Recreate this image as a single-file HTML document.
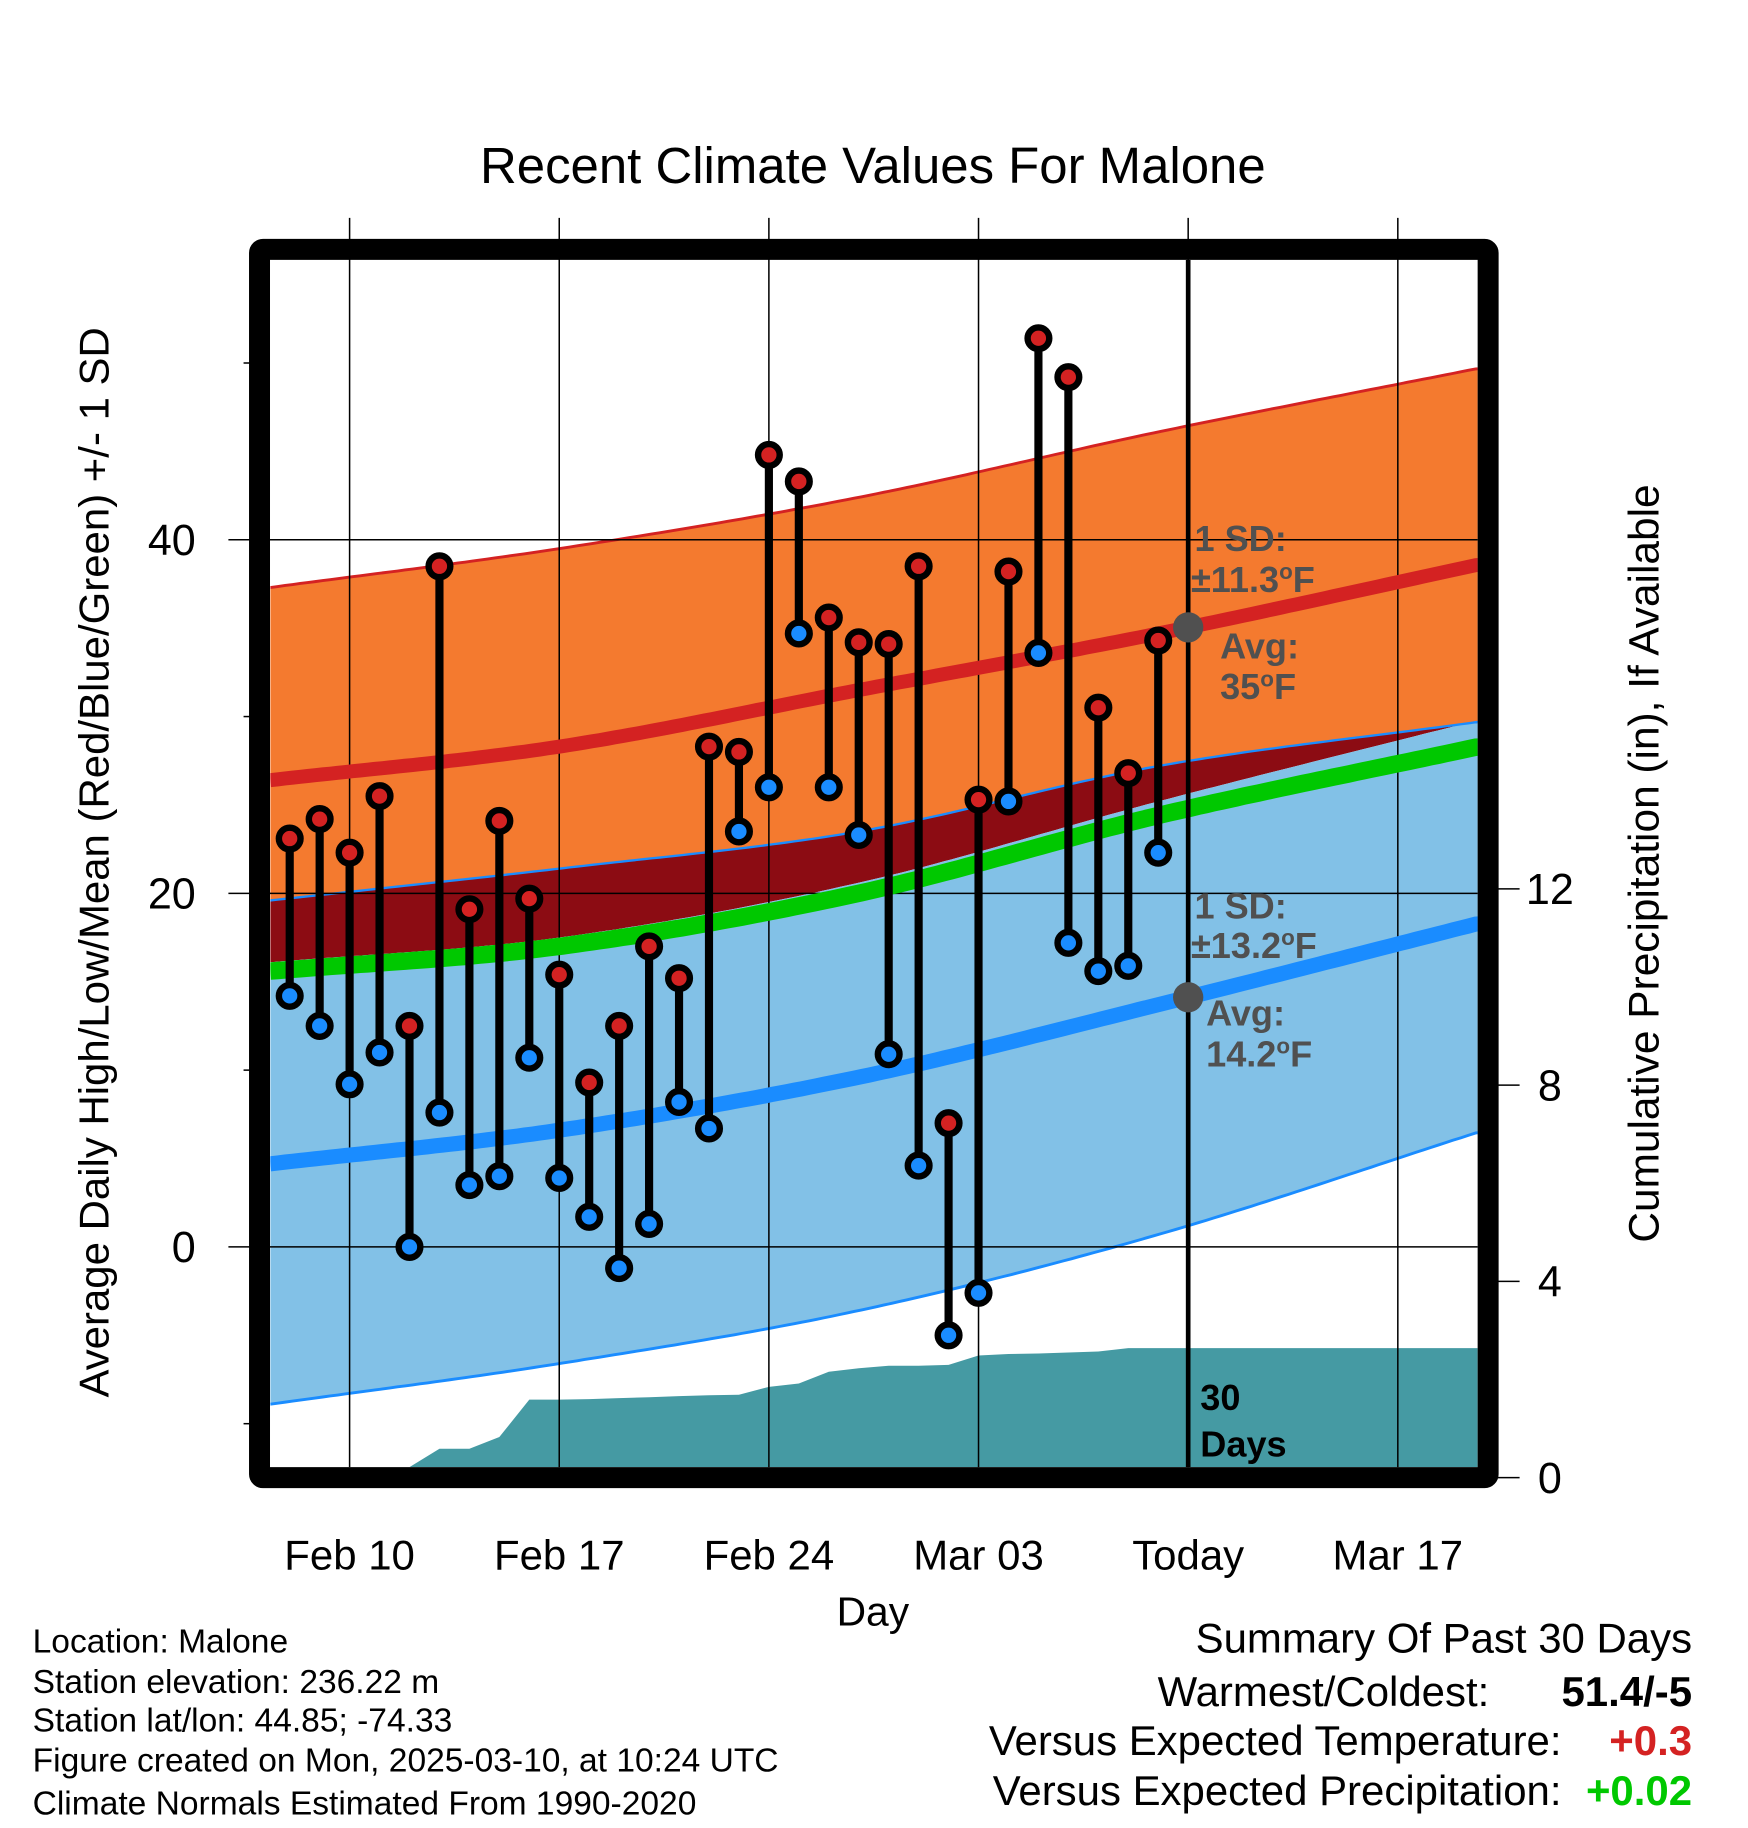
<!DOCTYPE html>
<html><head><meta charset="utf-8"><style>
html,body{margin:0;padding:0;background:#fff}
svg{display:block}
text{font-family:"Liberation Sans",Arial,sans-serif}
</style></head><body>
<svg id="chart" width="1748" height="1828" viewBox="0 0 1500 1568.65" xmlns="http://www.w3.org/2000/svg">
<defs><clipPath id="pc"><rect x="232" y="223" width="1036" height="1036"/></clipPath></defs>
<g id="fills" clip-path="url(#pc)"></g>
<g id="grid"></g>
<g id="lines" clip-path="url(#pc)"></g>
<g id="marks"></g>
<g id="frame"></g>
<g id="labels"></g>
</svg>
<script>
// ---- data ----
const dayOffsets = [-2,-1,0,1,2,3,4,5,6,7,8,9,10,11,12,13,14,15,16,17,18,19,20,21,22,23,24,25,26,27];
const highs = [23.1,24.2,22.3,25.5,12.5,38.5,19.1,24.1,19.7,15.4,9.3,12.5,17.0,15.2,28.3,28.0,44.8,43.3,35.6,34.2,34.1,38.5,7.0,25.3,38.2,51.4,49.2,30.5,26.8,34.3];
const lows = [14.2,12.5,9.2,11.0,0,7.6,3.5,4.0,10.7,3.9,1.7,-1.2,1.3,8.2,6.7,23.5,26.0,34.7,26.0,23.3,10.9,4.6,-5.0,-2.6,25.2,33.6,17.2,15.6,15.9,22.3];
const precipCum = [0,0,0,0.02,0.05,0.59,0.59,0.83,1.59,1.59,1.60,1.62,1.64,1.66,1.68,1.69,1.85,1.92,2.16,2.23,2.28,2.28,2.30,2.49,2.52,2.53,2.55,2.57,2.64,2.64];
const normDays = [-2.65,7,17,27,37.7];
const normHighUpper = [37.3,39.5,42.4,46.1,49.7];
const normHighMean = [26.4,28.3,31.5,34.7,38.6];
const normHighLower = [16.1,17.5,20.6,25.2,29.8];
const normLowUpper = [19.6,21.4,23.5,27.2,29.7];
const normMeanLine = [15.6,17.0,20.0,24.4,28.3];
const normLowMean = [4.7,6.6,9.6,13.7,18.3];
const normLowLower = [-8.9,-6.6,-3.6,0.7,6.5];
const xTickDays = [0,7,14,21,28,35];
const xTickLabels = ["Feb 10","Feb 17","Feb 24","Mar 03","Today","Mar 17"];
const yTickTemps = [0,20,40];
const yMinorTemps = [-10,10,30,50];
const pTicks = [0,4,8,12];

// ---- scales ----
const L=232,R=1268,T=223,B=1259;
const xS=d=>300+25.7*d;
const yS=t=>1070-15.17*t;
const pS=p=>1268-42.1*p;
const NS="http://www.w3.org/2000/svg";
function mk(parent,tag,attrs){const e=document.createElementNS(NS,tag);for(const k in attrs)e.setAttribute(k,attrs[k]);document.getElementById(parent).appendChild(e);return e;}
function interp(arr,d){
 const n=normDays.length;let i=0;
 while(i<n-2&&d>normDays[i+1])i++;
 const x0=normDays[i],x1=normDays[i+1],h=x1-x0,t=Math.max(0,Math.min(1,(d-x0)/h));
 const slope=k=>{if(k===0)return (arr[1]-arr[0])/(normDays[1]-normDays[0]);if(k===n-1)return (arr[n-1]-arr[n-2])/(normDays[n-1]-normDays[n-2]);return (arr[k+1]-arr[k-1])/(normDays[k+1]-normDays[k-1]);};
 const m0=slope(i)*h,m1=slope(i+1)*h,t2=t*t,t3=t2*t;
 return (2*t3-3*t2+1)*arr[i]+(t3-2*t2+t)*m0+(-2*t3+3*t2)*arr[i+1]+(t3-t2)*m1;
}
const sampleDays=[];for(let d=normDays[0];d<normDays[4];d+=0.25)sampleDays.push(d);sampleDays.push(normDays[4]+0.3);
function smooth(arr){return sampleDays.map(d=>[xS(d),yS(interp(arr,Math.min(d,normDays[4])))]);}
function band(a,b){const up=smooth(a),lo=smooth(b).reverse();return up.concat(lo).map(p=>p[0].toFixed(1)+','+p[1].toFixed(1)).join(' ');}
function line(a){return smooth(a).map(p=>p[0].toFixed(1)+','+p[1].toFixed(1)).join(' ');}

let e;
e=mk('fills','polygon',{points:band(normHighUpper,normLowUpper),fill:'#f47a2f'});

e=mk('fills','polygon',{points:band(normLowUpper,normHighLower),fill:'#8c0c13'});

e=mk('fills','polygon',{points:band(normHighLower,normLowLower),fill:'#82c1e7'});

e=mk('fills','polyline',{points:line(normHighUpper),fill:'none',stroke:'#d42222','stroke-width':2.5});

e=mk('fills','polyline',{points:line(normLowUpper),fill:'none',stroke:'#1a8cff','stroke-width':2});

e=mk('fills','polyline',{points:line(normLowLower),fill:'none',stroke:'#1a8cff','stroke-width':2.5});

let pp=[[L,B]];
pp.push([L,pS(precipCum[0])]);
dayOffsets.forEach((d,i)=>pp.push([xS(d),pS(precipCum[i])]));
pp.push([R,pS(precipCum[precipCum.length-1])]);pp.push([R,B]);
e=mk('fills','polygon',{points:pp.map(p=>p[0].toFixed(1)+','+Math.min(B,p[1]).toFixed(1)).join(' '),fill:'#459aa3'});


xTickDays.forEach((d,i)=>{const x=xS(d);
 e=mk('grid','line',{x1:x,x2:x,y1:187,y2:B,stroke:'#000','stroke-width':1.3});
 
 e=mk('labels','text',{x:x,y:1347,'font-size':36,'text-anchor':'middle'});e.textContent=xTickLabels[i];
 
});
yTickTemps.forEach(t=>{const y=yS(t);
 e=mk('grid','line',{x1:196,x2:R,y1:y,y2:y,stroke:'#000','stroke-width':1.3});
 
 e=mk('labels','text',{x:168,y:y+13,'font-size':37,'text-anchor':'end'});e.textContent=t;
 
});
yMinorTemps.forEach(t=>{const y=yS(t);
 e=mk('grid','line',{x1:209,x2:220,y1:y,y2:y,stroke:'#000','stroke-width':1.3});
 
});
pTicks.forEach(p=>{const y=pS(p);
 e=mk('grid','line',{x1:1285,x2:1304,y1:y,y2:y,stroke:'#000','stroke-width':1.3});
 
 e=mk('labels','text',{x:1330,y:y+13,'font-size':37,'text-anchor':'middle'});e.textContent=p;
 
});

e=mk('lines','polyline',{points:line(normMeanLine),fill:'none',stroke:'#00c800','stroke-width':15});

e=mk('lines','polyline',{points:line(normHighMean),fill:'none',stroke:'#d42222','stroke-width':12});

e=mk('lines','polyline',{points:line(normLowMean),fill:'none',stroke:'#1a8cff','stroke-width':13});

e=mk('lines','line',{x1:xS(28),x2:xS(28),y1:T,y2:B,stroke:'#000','stroke-width':4});

e=mk('lines','circle',{cx:xS(28),cy:yS(interp(normHighMean,28)),r:13,fill:'#505050'});

e=mk('lines','circle',{cx:xS(28),cy:yS(interp(normLowMean,28)),r:13,fill:'#505050'});


dayOffsets.forEach((d,i)=>{const x=xS(d);
 e=mk('marks','line',{x1:x,x2:x,y1:yS(highs[i]),y2:yS(lows[i]),stroke:'#000','stroke-width':7});
 
});
dayOffsets.forEach((d,i)=>{const x=xS(d);
 e=mk('marks','circle',{cx:x,cy:yS(highs[i]),r:9.3,fill:'#d42222',stroke:'#000','stroke-width':5.5});
 
 e=mk('marks','circle',{cx:x,cy:yS(lows[i]),r:9.3,fill:'#1a8cff',stroke:'#000','stroke-width':5.5});
 
});

e=mk('frame','rect',{x:222.7,y:214,width:1054.3,height:1054,fill:'none',stroke:'#000','stroke-width':18,rx:3});


function txt(x,y,s,str,opts,name){const t=mk('labels','text',Object.assign({x:x,y:y,'font-size':s},opts||{}));t.textContent=str;return t;}
function deg(x,y,s,pre,opts,name){const t=txt(x,y,s,pre,opts,name);
 const o=document.createElementNS(NS,'tspan');o.setAttribute('dy',-11);o.setAttribute('font-size',s*0.62);o.textContent='o';t.appendChild(o);
 const f=document.createElementNS(NS,'tspan');f.setAttribute('dy',11);f.textContent='F';t.appendChild(f);return t;}
const g={fill:'#505050','font-weight':'bold'};
txt(1025,473,31,'1 SD:',g,'high-sd-label');
deg(1022,508,31,'±11.3',g,'high-sd-value');
txt(1047,565,31,'Avg:',g,'high-avg-label');
deg(1047,600,31,'35',g,'high-avg-value');
txt(1025,788,31,'1 SD:',g,'low-sd-label');
deg(1022,822,31,'±13.2',g,'low-sd-value');
txt(1035,880,31,'Avg:',g,'low-avg-label');
deg(1035,915,31,'14.2',g,'low-avg-value');
txt(1030,1210,31,'30',{'font-weight':'bold'},'days-label-30');
txt(1030,1250,31,'Days',{'font-weight':'bold'},'days-label');
txt(749,157,43.7,'Recent Climate Values For Malone',{'text-anchor':'middle'},'chart-title');
txt(749,1395,35,'Day',{'text-anchor':'middle'},'x-axis-title');
txt(0,0,36,'Average Daily High/Low/Mean (Red/Blue/Green) +/- 1 SD',{'text-anchor':'middle',transform:'translate(93,740) rotate(-90)'},'y-axis-title');
txt(0,0,36.4,'Cumulative Precipitation (in), If Available',{'text-anchor':'middle',transform:'translate(1423,741) rotate(-90)'},'y2-axis-title');
const info=['Location: Malone','Station elevation: 236.22 m','Station lat/lon: 44.85; -74.33','Figure created on Mon, 2025-03-10, at 10:24 UTC','Climate Normals Estimated From 1990-2020'];
const infoY=[1418,1453,1486,1520,1557];
info.forEach((s,i)=>txt(28,infoY[i],28.8,s,{},'station-info-line'));
txt(1452,1418,36,'Summary Of Past 30 Days',{'text-anchor':'end'},'summary-title');
txt(1278,1464,36,'Warmest/Coldest:',{'text-anchor':'end'},'warmest-coldest-label');
txt(1452,1464,36,'51.4/-5',{'text-anchor':'end','font-weight':'bold'},'warmest-coldest-value');
txt(1340,1506,36,'Versus Expected Temperature:',{'text-anchor':'end'},'temp-anomaly-label');
txt(1452,1506,36,'+0.3',{'text-anchor':'end','font-weight':'bold',fill:'#d42222'},'temp-anomaly-value');
txt(1340,1549,36,'Versus Expected Precipitation:',{'text-anchor':'end'},'precip-anomaly-label');
txt(1452,1549,36,'+0.02',{'text-anchor':'end','font-weight':'bold',fill:'#00c800'},'precip-anomaly-value');
</script>
</body></html>
